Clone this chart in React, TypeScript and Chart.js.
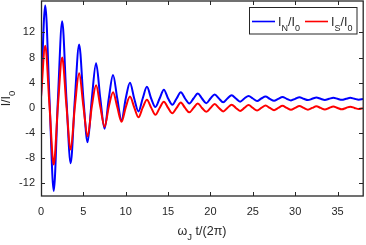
import React, { useEffect, useRef } from 'react';
import { Chart, registerables } from 'chart.js';

Chart.register(...registerables);

// ---- data ----
const timeValues = [
  0, 0.5, 1, 1.5, 2, 2.5, 3, 3.5, 4, 4.5, 5, 5.5, 6, 6.5, 7, 7.5, 8, 8.5, 9, 9.5,
  10, 10.5, 11, 11.5, 12, 12.5, 13, 13.5, 14, 14.5, 15, 15.5, 16, 16.5, 17, 17.5, 18, 18.5, 19, 19.5,
  20, 20.5, 21, 21.5, 22, 22.5, 23, 23.5, 24, 24.5, 25, 25.5, 26, 26.5, 27, 27.5, 28, 28.5, 29, 29.5,
  30, 30.5, 31, 31.5, 32, 32.5, 33, 33.5, 34, 34.5, 35, 35.5, 36, 36.5, 37, 37.5, 38,
];

const inValues = [
  1.7, 16.3, 1.5, -13.2, 1.5, 13.8, 1.5, -8.8, 1.5, 10.1, 1.5, -5.45, 1.5, 7.1, 1.5, -3.3, 1.5, 5.25, 1.5, -1.95,
  1.5, 4.0, 1.5, -0.55, 1.5, 3.35, 1.5, 0.15, 1.5, 2.9, 1.5, 0.5, 1.5, 2.5, 1.5, 0.7, 1.5, 2.3, 1.5, 0.75,
  1.5, 2.15, 1.5, 0.9, 1.5, 2.0, 1.5, 1.0, 1.5, 1.9, 1.5, 1.1, 1.5, 1.8, 1.45, 1.15, 1.45, 1.75, 1.45, 1.2,
  1.45, 1.7, 1.45, 1.25, 1.45, 1.65, 1.45, 1.28, 1.45, 1.62, 1.45, 1.3, 1.45, 1.6, 1.45, 1.32, 1.42,
];

const isValues = [
  1.7, 9.9, 0.4, -9.0, 0.4, 8.0, 0.35, -6.6, 0.3, 5.5, 0.3, -4.5, 0.25, 3.6, 0.2, -3.0, 0.2, 2.5, 0.15, -2.2,
  0.1, 1.8, 0.1, -1.5, 0.05, 1.3, 0.05, -1.1, 0.0, 1.0, 0.0, -0.85, 0.0, 0.85, 0.0, -0.7, 0.0, 0.72, 0.0, -0.62,
  0.0, 0.62, 0.0, -0.55, 0.0, 0.52, 0.0, -0.47, 0.0, 0.45, 0.0, -0.4, 0.0, 0.38, 0.0, -0.35, 0.0, 0.33, 0.0, -0.3,
  0.0, 0.29, 0.0, -0.27, 0.0, 0.26, 0.0, -0.24, 0.0, 0.23, 0.0, -0.21, 0.0, 0.2, 0.0, -0.18, -0.05,
];

const xTickValues = [0, 5, 10, 15, 20, 25, 30, 35];
const yTickValues = [-12, -8, -4, 0, 4, 8, 12];
const xRange = [0, 38];
const yRange = [-14, 17];

type Part = { t: string; sub?: boolean };
const legendEntries: { color: string; lineX: number; textX: number; parts: Part[] }[] = [
  { color: '#0000ff', lineX: 252, textX: 278, parts: [{ t: 'I' }, { t: 'N', sub: true }, { t: '/I' }, { t: '0', sub: true }] },
  { color: '#ff0000', lineX: 305, textX: 331, parts: [{ t: 'I' }, { t: 'S', sub: true }, { t: '/I' }, { t: '0', sub: true }] },
];
const xTitleParts: Part[] = [{ t: 'ω' }, { t: 'J', sub: true }, { t: ' t/(2π)' }];
const yTitleParts: Part[] = [{ t: 'I/I' }, { t: '0', sub: true }];

const FONT = '"Liberation Sans", Arial, Helvetica, sans-serif';
const INK = '#262626';

function partsWidth(ctx: CanvasRenderingContext2D, parts: Part[], size: number, subSize: number) {
  let w = 0;
  for (const p of parts) {
    ctx.font = `${p.sub ? subSize : size}px ${FONT}`;
    w += ctx.measureText(p.t).width;
  }
  return w;
}

function drawParts(
  ctx: CanvasRenderingContext2D,
  parts: Part[],
  x: number,
  y: number,
  size: number,
  subSize: number,
  drop: number
) {
  let cx = x;
  ctx.textAlign = 'left';
  ctx.textBaseline = 'alphabetic';
  for (const p of parts) {
    ctx.font = `${p.sub ? subSize : size}px ${FONT}`;
    ctx.fillText(p.t, cx, p.sub ? y + drop : y);
    cx += ctx.measureText(p.t).width;
  }
  return cx;
}

const framePlugin = {
  id: 'matlabFrame',
  afterDraw(chart: any) {
    const { ctx, chartArea: a, scales } = chart;
    ctx.save();
    // inward ticks
    ctx.strokeStyle = INK;
    ctx.lineWidth = 1;
    ctx.beginPath();
    for (const v of xTickValues) {
      const px = Math.round(scales.x.getPixelForValue(v)) + 0.5;
      ctx.moveTo(px, a.bottom);
      ctx.lineTo(px, a.bottom - 4);
      ctx.moveTo(px, a.top);
      ctx.lineTo(px, a.top + 4);
    }
    for (const v of yTickValues) {
      const py = Math.round(scales.y.getPixelForValue(v)) + 0.5;
      ctx.moveTo(a.left, py);
      ctx.lineTo(a.left + 4, py);
      ctx.moveTo(a.right, py);
      ctx.lineTo(a.right - 4, py);
    }
    ctx.stroke();
    // box
    ctx.lineWidth = 1.3;
    ctx.strokeRect(a.left + 0.5, a.top, a.right - a.left - 0.3, a.bottom - a.top);

    // legend
    const lx = 249.5, ly = 7.5, lw = 107.5, lh = 26.5;
    ctx.fillStyle = '#ffffff';
    ctx.fillRect(lx, ly, lw, lh);
    ctx.lineWidth = 1;
    ctx.strokeStyle = INK;
    ctx.strokeRect(lx, ly, lw, lh);
    for (const e of legendEntries) {
      ctx.strokeStyle = e.color;
      ctx.lineWidth = 1.6;
      ctx.beginPath();
      ctx.moveTo(e.lineX, 21.5);
      ctx.lineTo(e.lineX + 23, 21.5);
      ctx.stroke();
      ctx.fillStyle = INK;
      drawParts(ctx, e.parts, e.textX, 25.5, 12.5, 9, 5);
    }

    // x title
    ctx.fillStyle = INK;
    const xw = partsWidth(ctx, xTitleParts, 12.5, 9.5);
    const xc = (a.left + a.right) / 2;
    drawParts(ctx, xTitleParts, xc - xw / 2, 234.5, 12.5, 9.5, 5);

    // y title
    const yw = partsWidth(ctx, yTitleParts, 12.5, 9.5);
    const yc = (a.top + a.bottom) / 2;
    ctx.translate(10, yc);
    ctx.rotate(-Math.PI / 2);
    drawParts(ctx, yTitleParts, -yw / 2, 0, 12.5, 9.5, 5);
    ctx.restore();
  },
};

export default function App() {
  const canvasRef = useRef<HTMLCanvasElement | null>(null);

  useEffect(() => {
    const canvas = canvasRef.current;
    if (!canvas) return;
    const chart = new Chart(canvas, {
      type: 'line',
      data: {
        datasets: [
          {
            label: 'I_S/I_0',
            data: timeValues.map((t, i) => ({ x: t, y: isValues[i] })),
            borderColor: '#ff0000',
            borderWidth: 2,
            pointRadius: 0,
            cubicInterpolationMode: 'monotone',
            fill: false,
          },
          {
            label: 'I_N/I_0',
            data: timeValues.map((t, i) => ({ x: t, y: inValues[i] })),
            borderColor: '#0000ff',
            borderWidth: 2,
            pointRadius: 0,
            cubicInterpolationMode: 'monotone',
            fill: false,
          },
        ],
      },
      options: {
        animation: false,
        responsive: false,
        devicePixelRatio: 1,
        layout: { padding: { top: 1, right: 3, left: 0, bottom: 0 } },
        plugins: { legend: { display: false }, tooltip: { enabled: false } },
        scales: {
          x: {
            type: 'linear',
            min: xRange[0],
            max: xRange[1],
            afterBuildTicks: (s: any) => {
              s.ticks = xTickValues.map((v) => ({ value: v }));
            },
            afterFit: (s: any) => {
              s.height = 49;
              s.paddingLeft = 0;
              s.paddingRight = 0;
              s.paddingTop = 0;
              s.paddingBottom = 0;
            },
            grid: { display: false, drawTicks: false },
            border: { display: false },
            ticks: {
              font: { family: FONT, size: 11 },
              color: INK,
              padding: 9,
              maxRotation: 0,
              autoSkip: false,
              callback: (v: any) => String(v),
            },
          },
          y: {
            type: 'linear',
            min: yRange[0],
            max: yRange[1],
            afterBuildTicks: (s: any) => {
              s.ticks = yTickValues.map((v) => ({ value: v }));
            },
            afterFit: (s: any) => {
              s.width = 41;
              s.paddingLeft = 0;
              s.paddingRight = 0;
              s.paddingTop = 0;
              s.paddingBottom = 0;
            },
            grid: { display: false, drawTicks: false },
            border: { display: false },
            ticks: {
              font: { family: FONT, size: 11 },
              color: INK,
              padding: 6,
              autoSkip: false,
              callback: (v: any) => String(v),
            },
          },
        },
      },
      plugins: [framePlugin],
    } as any);
    return () => chart.destroy();
  }, []);

  return (
    <div style={{ position: 'fixed', left: 0, top: 0, width: 366, height: 245, background: '#fff' }}>
      <canvas ref={canvasRef} width={366} height={245} style={{ width: 366, height: 245, display: 'block' }} />
    </div>
  );
}
